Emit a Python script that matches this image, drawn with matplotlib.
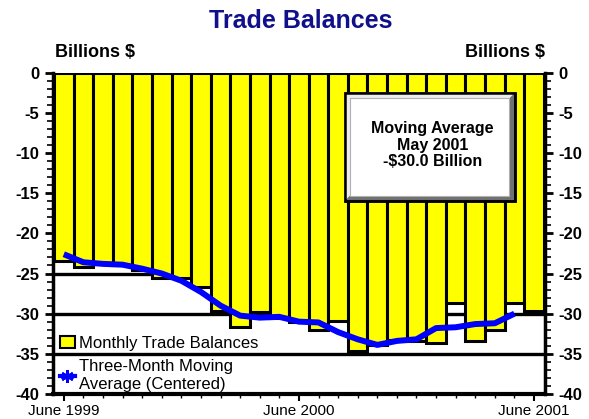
import matplotlib.pyplot as plt
from matplotlib.patches import Rectangle, Patch, Polygon
from matplotlib.lines import Line2D
from matplotlib.ticker import MultipleLocator

plt.rcParams["font.family"] = ["Liberation Sans", "DejaVu Sans"]

# monthly trade balances, June 1999 - June 2001 (billions $)
months = list(range(25))
balances = [-23.5, -24.2, -23.8, -24.0, -24.6, -25.6, -25.5, -26.7, -29.7, -31.7,
            -29.75, -30.6, -31.0, -32.1, -30.9, -34.6, -33.9, -33.25, -33.4, -33.7,
            -28.7, -33.4, -32.1, -28.7, -29.7]
# three-month moving average (centered)
ma_months = list(range(24))
moving_avg = [-22.6, -23.6, -23.8, -23.9, -24.4, -25.0, -25.9, -27.3, -29.0, -30.25,
              -30.5, -30.4, -31.0, -31.1, -32.3, -33.2, -33.9, -33.4, -33.2, -31.8,
              -31.7, -31.3, -31.2, -30.0]
tick_pos = [0, 12, 24]
tick_labels = ["June 1999", "June 2000", "June 2001"]

fig = plt.figure(figsize=(5.89, 4.19), dpi=100)
ax = fig.add_axes([0.090, 0.060, 0.835, 0.766])

for y in [-5, -10, -15, -20, -25, -30, -35]:
    ax.axhline(y, color="black", lw=2.4, zorder=1)

ax.bar(months, balances, width=1.0, color="#ffff00", edgecolor="black",
       linewidth=2.2, zorder=2)
ax.plot(ma_months, moving_avg, color="#0000ff", lw=4.3, zorder=3,
        solid_capstyle="butt")

ax.set_xlim(-0.55, 24.55)
ax.set_ylim(-40, 0)

for s in ["left", "right", "bottom"]:
    ax.spines[s].set_linewidth(2.5)
ax.spines["bottom"].set_linewidth(3)
ax.spines["top"].set_visible(False)

ax.yaxis.set_major_locator(MultipleLocator(5))
ax.yaxis.set_minor_locator(MultipleLocator(1))
ax.tick_params(axis="y", which="major", length=6, width=2, labelsize=12,
               left=True, right=True, labelleft=True, labelright=True, pad=4)
ax.tick_params(axis="y", which="minor", length=4, width=1.2, left=True, right=True)
ax.set_yticklabels([f"{v:g}" for v in ax.get_yticks()], fontweight="bold")

ax.set_xticks(tick_pos)
ax.set_xticklabels(tick_labels, fontsize=11)
ax.xaxis.set_minor_locator(MultipleLocator(1))
ax.tick_params(axis="x", which="major", length=5, width=1.5, pad=2)
ax.tick_params(axis="x", which="minor", length=3, width=1)

fig.text(0.51, 0.950, "Trade Balances", ha="center", va="center",
         fontsize=18, fontweight="bold", color="#10108c")
fig.text(0.093, 0.875, "Billions $", ha="left", va="center",
         fontsize=13, fontweight="bold")
fig.text(0.925, 0.875, "Billions $", ha="right", va="center",
         fontsize=13, fontweight="bold")

# bevelled annotation box
x0, x1, y0, y1 = 0.593, 0.939, 0.601, 0.938
bx, by = 0.011, 0.017
ax.add_patch(Rectangle((x0, y0), x1 - x0, y1 - y0, transform=ax.transAxes,
                       facecolor="#707070", edgecolor="black", lw=1.8, zorder=5))
ax.add_patch(Polygon([(x0, y0), (x0, y1), (x1, y1), (x1 - bx, y1 - by),
                      (x0 + bx, y1 - by), (x0 + bx, y0 + by)],
                     closed=True, transform=ax.transAxes, facecolor="#ececec",
                     edgecolor="none", zorder=5))
ax.add_patch(Rectangle((x0 + bx, y0 + by), x1 - x0 - 2 * bx, y1 - y0 - 2 * by,
                       transform=ax.transAxes, facecolor="white",
                       edgecolor="#b0b0b0", lw=0.8, zorder=5))
ax.add_patch(Rectangle((x0, y0), x1 - x0, y1 - y0, transform=ax.transAxes,
                       facecolor="none", edgecolor="black", lw=1.8, zorder=5))
ax.text((x0 + x1) / 2 + 0.005, 0.775, "Moving Average\nMay 2001\n-$30.0 Billion",
        transform=ax.transAxes, ha="center", va="center", fontsize=11.5,
        fontweight="bold", linespacing=1.1, zorder=6)

handles = [Patch(facecolor="#ffff00", edgecolor="black", lw=1.5),
           Line2D([], [], color="#0000ff", lw=3, marker=(6, 2, 0), ms=9,
                  markeredgewidth=2)]
ax.legend(handles, ["Monthly Trade Balances", "Three-Month Moving\nAverage (Centered)"],
          loc="lower left", bbox_to_anchor=(0.0, -0.014), frameon=False,
          fontsize=12, handlelength=0.9, handletextpad=0.25,
          labelspacing=0.5, borderaxespad=0.0)

fig.savefig("out.png", dpi=100)
